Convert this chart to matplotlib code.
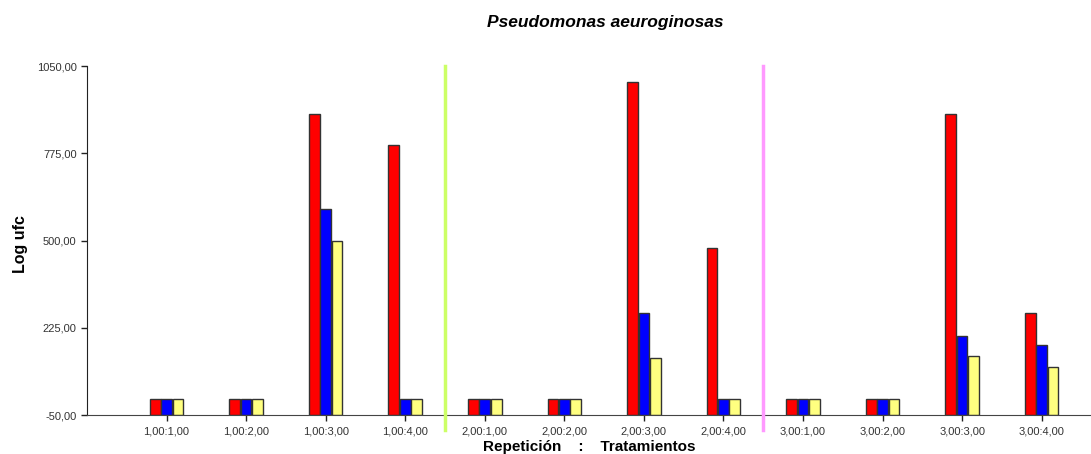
import numpy as np
import matplotlib.pyplot as plt

plt.rcParams["font.family"] = ["Liberation Sans", "DejaVu Sans"]

categories = ["1,00:1,00", "1,00:2,00", "1,00:3,00", "1,00:4,00",
              "2,00:1,00", "2,00:2,00", "2,00:3,00", "2,00:4,00",
              "3,00:1,00", "3,00:2,00", "3,00:3,00", "3,00:4,00"]
red_vals = [0, 0, 900, 800, 0, 0, 1000, 475, 0, 0, 900, 270]
blue_vals = [0, 0, 600, 0, 0, 0, 270, 0, 0, 0, 200, 170]
yellow_vals = [0, 0, 500, 0, 0, 0, 130, 0, 0, 0, 135, 100]
y_ticks = [-50, 225, 500, 775, 1050]
separators = [3.5, 7.5]
sep_colors = ["#ccff66", "#ff99ff"]

fig = plt.figure(figsize=(10.91, 4.54), dpi=100)
ax = fig.add_axes([0.0797, 0.0859, 0.9203, 0.7687])

x = np.arange(len(categories))
w = 0.135
step = 0.143
ax.bar(x - step, np.array(red_vals) + 50, w, bottom=-50, color="#ff0000",
       edgecolor="#333333", linewidth=1)
ax.bar(x, np.array(blue_vals) + 50, w, bottom=-50, color="#0000ff",
       edgecolor="#333333", linewidth=1)
ax.bar(x + step, np.array(yellow_vals) + 50, w, bottom=-50, color="#ffff80",
       edgecolor="#333333", linewidth=1)

for sx, c in zip(separators, sep_colors):
    ax.plot([sx, sx], [-97, 1050], color=c, linewidth=2.5, clip_on=False, zorder=3)

ax.set_xlim(-1, 11.62)
ax.set_ylim(-50, 1050)
ax.set_yticks(y_ticks)
ax.set_yticklabels([f"{v:.2f}".replace(".", ",") for v in y_ticks], fontsize=8)
ax.set_xticks(x)
ax.set_xticklabels(categories, fontsize=8)
ax.tick_params(axis="both", length=4, width=1, colors="#222222", labelcolor="#333333")
ax.tick_params(axis="x", pad=4)

for s in ["top", "right"]:
    ax.spines[s].set_visible(False)
ax.spines["left"].set_color("#222222")
ax.spines["bottom"].set_color("#444444")

ax.set_ylabel("Log ufc", fontsize=11.5, fontweight="bold")
ax.yaxis.set_label_coords(-0.059, 0.49)
ax.set_xlabel("Repetición    :    Tratamientos", fontsize=11, fontweight="bold")
ax.xaxis.set_label_coords(0.5, -0.071)
fig.text(0.555, 0.95, "Pseudomonas aeuroginosas", fontsize=12.5, fontweight="bold",
         fontstyle="italic", ha="center", va="center")

fig.savefig("out.png", dpi=100)
